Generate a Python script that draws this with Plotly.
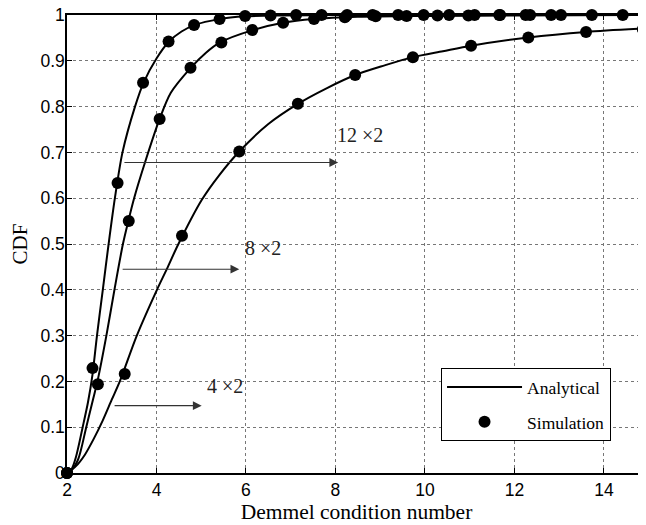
import plotly.graph_objects as go

# ---------------- data ----------------
x_ticks = [2, 4, 6, 8, 10, 12, 14]
y_ticks = [0, 0.1, 0.2, 0.3, 0.4, 0.5, 0.6, 0.7, 0.8, 0.9, 1]
y_ticklabels = ["0", "0.1", "0.2", "0.3", "0.4", "0.5", "0.6", "0.7", "0.8", "0.9", "1"]

# Analytical curves
ana_12x2_x = [2.0, 2.1, 2.2, 2.35, 2.47, 2.57, 2.67, 2.80, 2.93, 3.07, 3.24, 3.52, 3.71, 4.0,
              4.28, 4.56, 4.85, 5.40, 5.98, 6.8, 8.0, 10.0, 12.0, 15.0]
ana_12x2_y = [0.0, 0.008, 0.035, 0.10, 0.155, 0.215, 0.30, 0.40, 0.50, 0.60, 0.70, 0.80, 0.852, 0.905,
              0.942, 0.964, 0.978, 0.991, 0.997, 0.999, 1.0, 1.0, 1.0, 1.0]

ana_8x2_x = [2.0, 2.1, 2.25, 2.43, 2.58, 2.68, 2.88, 3.06, 3.25, 3.37, 3.50, 3.75, 4.07, 4.32,
             4.77, 5.1, 5.42, 6.15, 6.83, 7.51, 8.5, 10.0, 12.0, 15.0]
ana_8x2_y = [0.0, 0.006, 0.03, 0.10, 0.16, 0.20, 0.30, 0.40, 0.50, 0.55, 0.60, 0.68, 0.773, 0.83,
             0.885, 0.917, 0.94, 0.967, 0.983, 0.991, 0.996, 0.998, 0.999, 1.0]

ana_4x2_x = [2.0, 2.2, 2.4, 2.6, 2.8, 3.0, 3.18, 3.56, 4.01, 4.23, 4.49, 5.01, 5.4,
             5.85, 6.5, 7.16, 7.8, 8.44, 9.1, 9.73, 10.4, 11.03, 12.31, 13.6, 15.0]
ana_4x2_y = [0.0, 0.015, 0.04, 0.075, 0.115, 0.16, 0.20, 0.30, 0.40, 0.445, 0.50, 0.596, 0.65,
             0.702, 0.762, 0.806, 0.84, 0.869, 0.89, 0.908, 0.921, 0.933, 0.951, 0.963, 0.971]

# Simulation points
sim_12x2_x = [2.0, 2.57, 3.13, 3.70, 4.27, 4.84, 5.41, 5.98, 6.55, 7.12, 7.69, 8.26, 8.83,
              9.40, 9.97, 10.54, 11.11, 11.68, 12.25, 12.82]
sim_12x2_y = [0.0, 0.229, 0.633, 0.852, 0.942, 0.978, 0.991, 0.998, 0.999, 1.0, 1.0, 1.0, 1.0,
              1.0, 1.0, 1.0, 1.0, 1.0, 1.0, 1.0]

sim_8x2_x = [2.0, 2.69, 3.38, 4.07, 4.76, 5.45, 6.14, 6.83, 7.52, 8.21, 8.90, 9.59, 10.28,
             10.97, 11.66, 12.35, 13.04, 13.73, 14.42]
sim_8x2_y = [0.0, 0.194, 0.55, 0.773, 0.885, 0.94, 0.967, 0.983, 0.991, 0.995, 0.997, 0.998, 0.999,
             0.999, 1.0, 1.0, 1.0, 1.0, 1.0]

sim_4x2_x = [2.0, 3.29, 4.57, 5.85, 7.16, 8.44, 9.73, 11.03, 12.31, 13.60, 14.87]
sim_4x2_y = [0.0, 0.216, 0.518, 0.702, 0.806, 0.869, 0.908, 0.933, 0.951, 0.963, 0.969]

# ---------------- figure ----------------
fig = go.Figure()

line_style = dict(color="black", width=2, shape="spline", smoothing=0.8)
marker_style = dict(color="black", size=12, symbol="circle")

ana = [(ana_12x2_x, ana_12x2_y), (ana_8x2_x, ana_8x2_y), (ana_4x2_x, ana_4x2_y)]
sim = [(sim_12x2_x, sim_12x2_y), (sim_8x2_x, sim_8x2_y), (sim_4x2_x, sim_4x2_y)]

for i, (xs, ys) in enumerate(ana):
    fig.add_trace(go.Scatter(x=xs, y=ys, mode="lines", line=line_style,
                             name="Analytical", legendgroup="a", showlegend=(i == 0),
                             cliponaxis=False))
for i, (xs, ys) in enumerate(sim):
    fig.add_trace(go.Scatter(x=xs, y=ys, mode="markers", marker=marker_style,
                             name="Simulation", legendgroup="s", showlegend=(i == 0),
                             cliponaxis=False))

serif = "Liberation Serif, Times New Roman, serif"
sans = "Liberation Sans, Arial, sans-serif"

# labels
labels = [("12 \u00d72", 8.55, 0.738), ("8 \u00d72", 6.37, 0.492), ("4 \u00d72", 5.53, 0.19)]
for txt, lx, ly in labels:
    fig.add_annotation(x=lx, y=ly, xref="x", yref="y", text=txt, showarrow=False,
                       font=dict(family=serif, size=20, color="#222"))

# arrows
arrows = [(3.25, 8.06, 0.678), (3.21, 5.85, 0.445), (3.03, 5.01, 0.147)]
for x0, x1, ay in arrows:
    fig.add_annotation(x=x1, y=ay, ax=x0, ay=ay, xref="x", yref="y", axref="x", ayref="y",
                       text="", showarrow=True, arrowhead=2, arrowsize=1.6, arrowwidth=1.1,
                       arrowcolor="#333")

# the page body adds an 8px offset, so the figure is sized to fit the window
fig.update_layout(
    width=638, height=517,
    margin=dict(l=59, r=0, t=7, b=52),
    plot_bgcolor="white", paper_bgcolor="white",
    showlegend=True,
    legend=dict(x=0.646, y=0.229, xanchor="left", yanchor="top",
                bgcolor="white", bordercolor="black", borderwidth=1,
                font=dict(family=serif, size=17.5, color="black"),
                itemwidth=75, tracegroupgap=9, entrywidth=150),
)

fig.update_xaxes(range=[2, 14.94], tickvals=x_ticks, ticktext=[str(v) for v in x_ticks],
                 automargin=False, ticklabeloverflow="allow",
                 showline=True, linecolor="black", linewidth=1.5, mirror="allticks",
                 ticks="inside", ticklen=5, tickcolor="black",
                 showgrid=True, gridcolor="#777", griddash="dot", gridwidth=1,
                 zeroline=False,
                 tickfont=dict(family=sans, size=17.5, color="black"),
                 title=dict(text="Demmel condition number", standoff=4,
                            font=dict(family=serif, size=21.5, color="black")))
fig.update_yaxes(range=[0, 1], tickvals=y_ticks, ticktext=y_ticklabels,
                 automargin=False, ticklabeloverflow="allow", ticklabelstandoff=-3,
                 showline=True, linecolor="black", linewidth=1.5, mirror="allticks",
                 ticks="inside", ticklen=5, tickcolor="black",
                 showgrid=True, gridcolor="#777", griddash="dot", gridwidth=1,
                 zeroline=False,
                 tickfont=dict(family=sans, size=17.5, color="black"),
                 title=dict(text="CDF", standoff=9,
                            font=dict(family=serif, size=21, color="black")))

fig.write_html("out.html")
